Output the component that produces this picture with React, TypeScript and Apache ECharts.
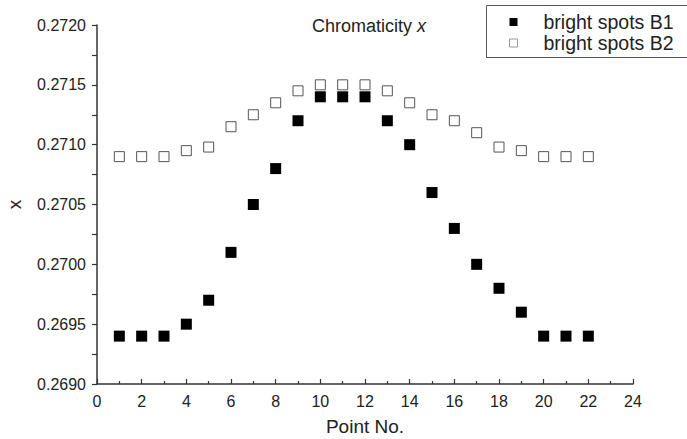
import React, { useEffect, useRef } from "react";
import * as echarts from "echarts";

const pointNo = [1, 2, 3, 4, 5, 6, 7, 8, 9, 10, 11, 12, 13, 14, 15, 16, 17, 18, 19, 20, 21, 22];
const b1Values = [0.2694, 0.2694, 0.2694, 0.2695, 0.2697, 0.2701, 0.2705, 0.2708, 0.2712, 0.2714, 0.2714, 0.2714, 0.2712, 0.2710, 0.2706, 0.2703, 0.2700, 0.2698, 0.2696, 0.2694, 0.2694, 0.2694];
const b2Values = [0.2709, 0.2709, 0.2709, 0.27095, 0.27098, 0.27115, 0.27125, 0.27135, 0.27145, 0.2715, 0.2715, 0.2715, 0.27145, 0.27135, 0.27125, 0.2712, 0.2711, 0.27098, 0.27095, 0.2709, 0.2709, 0.2709];
const seriesNames = ["bright spots B1", "bright spots B2"];

const FONT = "Liberation Sans, Arial, sans-serif";

export default function App() {
  const ref = useRef<HTMLDivElement>(null);
  useEffect(() => {
    if (!ref.current) return;
    const chart = echarts.init(ref.current, undefined, { renderer: "svg" });
    const axisColor = "#333";
    chart.setOption({
      animation: false,
      backgroundColor: "#fff",
      textStyle: { fontFamily: FONT },
      title: {
        text: "{a|Chromaticity }{b|x}",
        left: 312,
        top: 17,
        padding: 0,
        textStyle: {
          rich: {
            a: { fontSize: 18, color: "#222", fontFamily: FONT, fontWeight: "normal" },
            b: { fontSize: 18, color: "#222", fontFamily: FONT, fontStyle: "italic", fontWeight: "normal" },
          },
        },
      },
      legend: {
        orient: "vertical",
        left: 509,
        top: 12,
        itemWidth: 8,
        itemHeight: 8,
        itemGap: 1,
        padding: 0,
        data: [
          { name: seriesNames[0], icon: "rect", itemStyle: { color: "#000", borderWidth: 0 } },
          { name: seriesNames[1], icon: "rect", itemStyle: { color: "#fff", borderColor: "#999", borderWidth: 1 } },
        ],
        textStyle: { fontSize: 19.5, color: "#222", fontFamily: FONT, padding: [0, 0, 0, 21] },
      },
      graphic: [
        {
          type: "rect",
          shape: { x: 486.5, y: 5.5, width: 210, height: 52 },
          style: { fill: "none", stroke: "#555", lineWidth: 1 },
          z: 100,
        },
      ],
      grid: { left: 97, right: 54, top: 25, bottom: 55, outerBoundsMode: "none", containLabel: false },
      xAxis: {
        type: "value",
        min: 0,
        max: 24,
        interval: 2,
        name: "Point No.",
        nameLocation: "middle",
        nameGap: 33,
        nameTextStyle: { fontSize: 19, color: "#222", fontFamily: FONT },
        axisLine: { show: true, lineStyle: { color: axisColor, width: 1.5 } },
        axisTick: { show: true, inside: true, length: 5, lineStyle: { color: axisColor, width: 1.2 } },
        minorTick: { show: true, splitNumber: 2, length: 3, lineStyle: { color: axisColor, width: 1.2 } },
        splitLine: { show: false },
        axisLabel: { fontSize: 16, color: "#222", margin: 9, fontFamily: FONT },
      },
      yAxis: {
        type: "value",
        min: 0.269,
        max: 0.272,
        interval: 0.0005,
        name: "x",
        nameLocation: "middle",
        nameRotate: 90,
        nameGap: 73,
        nameTextStyle: { fontSize: 19, color: "#222", fontFamily: FONT },
        axisLine: { show: true, lineStyle: { color: axisColor, width: 1.5 } },
        axisTick: { show: true, inside: false, length: 5, lineStyle: { color: axisColor, width: 1.2 } },
        minorTick: { show: true, splitNumber: 2, length: 5, lineStyle: { color: axisColor, width: 1.2 } },
        splitLine: { show: false },
        axisLabel: {
          fontSize: 16,
          color: "#222",
          margin: 11,
          fontFamily: FONT,
          formatter: (v: number) => v.toFixed(4),
        },
      },
      series: [
        {
          name: seriesNames[0],
          type: "scatter",
          symbol: "rect",
          symbolSize: 11,
          itemStyle: { color: "#000", opacity: 1 },
          data: pointNo.map((p, i) => [p, b1Values[i]]),
        },
        {
          name: seriesNames[1],
          type: "scatter",
          symbol: "rect",
          symbolSize: 10,
          itemStyle: { color: "#fff", borderColor: "#555", borderWidth: 1, opacity: 1 },
          data: pointNo.map((p, i) => [p, b2Values[i]]),
        },
      ],
    });
    return () => chart.dispose();
  }, []);
  return <div ref={ref} style={{ width: 687, height: 439, position: "absolute", left: 0, top: 0 }} />;
}
